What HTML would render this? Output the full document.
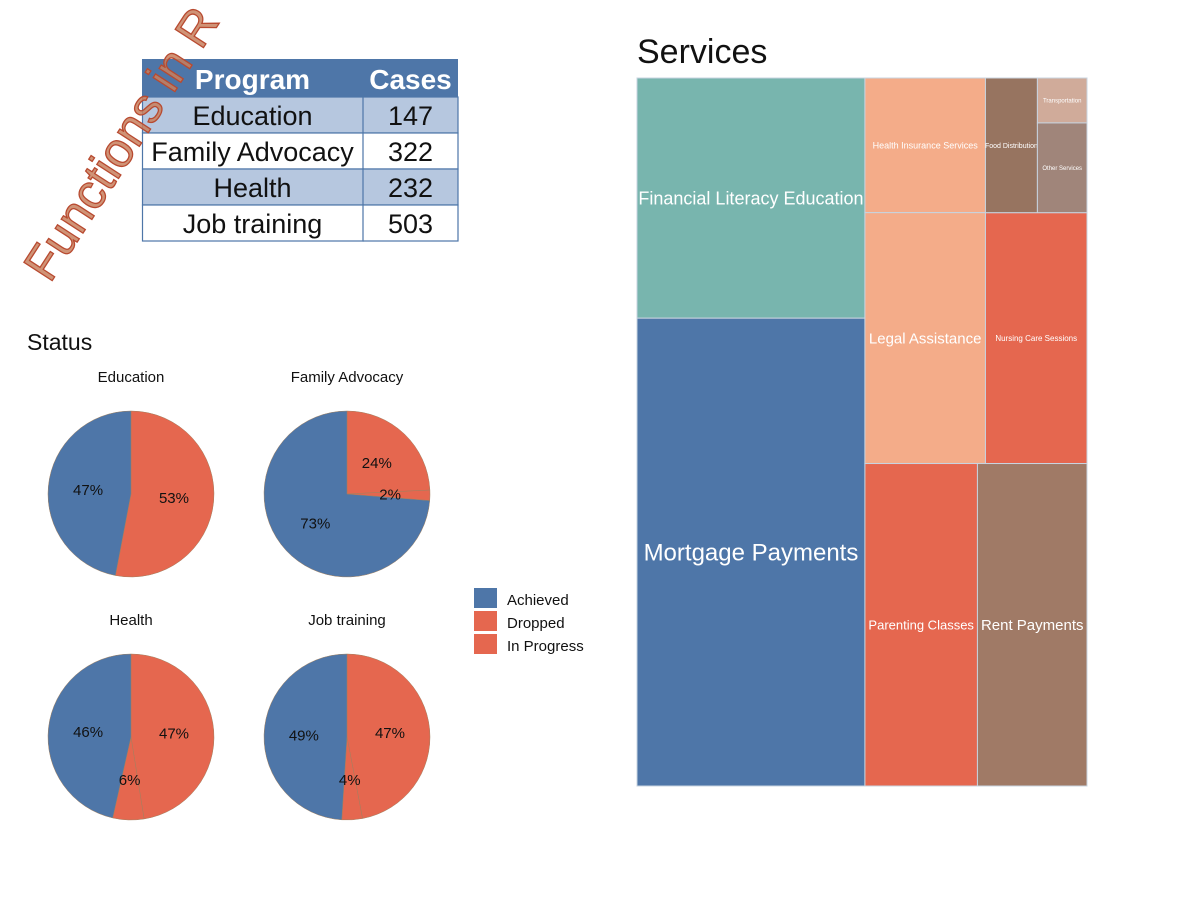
<!DOCTYPE html>
<html><head><meta charset="utf-8"><style>
body{margin:0;background:#fff;width:1200px;height:900px;overflow:hidden;font-family:"Liberation Sans",Arial,sans-serif}
svg text{font-family:"Liberation Sans",Arial,sans-serif}
</style></head><body>
<svg id="chart" width="1200" height="900" viewBox="0 0 1200 900">
<g id="table"></g>
<text x="0" y="0" transform="translate(50,284) rotate(-57)" font-size="49" fill="#c8805e" fill-opacity="0.85" stroke="#b84a30" stroke-width="1.3">Functions in R</text>
<text x="27" y="350" font-size="23" fill="#111">Status</text>
<g id="pies"></g>
<g id="legend"></g>
<text x="637" y="63" font-size="34" fill="#111">Services</text>
<g id="tree"></g>
</svg>
<script>
const NS="http://www.w3.org/2000/svg";
function mk(tag,attrs,parent){const e=document.createElementNS(NS,tag);for(const k in attrs)e.setAttribute(k,attrs[k]);parent.appendChild(e);return e;}

// ---- table data
const programs=["Education","Family Advocacy","Health","Job training"];
const cases=[147,322,232,503];
// ---- pie data
const statusCats=["Achieved","Dropped","In Progress"];
const pieAchieved=[47,73,46,49];
const pieDropped=[53,24,47,47];
const pieInProgress=[0,2,6,4];
const statusColors=["#4e76a8","#e5674f","#e5674f"];
// ---- treemap data
const services=["Financial Literacy Education","Mortgage Payments","Health Insurance Services","Legal Assistance","Food Distribution","Transportation","Other Services","Nursing Care Sessions","Parenting Classes","Rent Payments"];
const serviceValues=[172,335,51,95,22,7,14,80,114,111];

// table
const tg=document.getElementById('table');
const tx0=142,tx1=363,tx2=458,ty0=59,hh=38,rh=36;
let r=mk('rect',{x:tx0,y:ty0,width:tx2-tx0,height:hh,fill:'#4e76a8'},tg);

let t=mk('text',{x:(tx0+tx1)/2,y:ty0+30,'font-size':28,'font-weight':'bold',fill:'#fff','text-anchor':'middle'},tg);t.textContent='Program';

t=mk('text',{x:(tx1+tx2)/2,y:ty0+30,'font-size':28,'font-weight':'bold',fill:'#fff','text-anchor':'middle'},tg);t.textContent='Cases';

programs.forEach((p,i)=>{
  const y=ty0+hh+i*rh;const fill=i%2==0?'#b6c7df':'#fff';
  let a=mk('rect',{x:tx0+0.5,y:y,width:tx1-tx0,height:rh,fill:fill,stroke:'#4e76a8','stroke-width':1.2},tg);
  
  let b=mk('rect',{x:tx1,y:y,width:tx2-tx1,height:rh,fill:fill,stroke:'#4e76a8','stroke-width':1.2},tg);
  
  let c=mk('text',{x:(tx0+tx1)/2,y:y+28,'font-size':27,fill:'#111','text-anchor':'middle'},tg);c.textContent=p;
  
  let d=mk('text',{x:(tx1+tx2)/2,y:y+28,'font-size':27,fill:'#111','text-anchor':'middle'},tg);d.textContent=cases[i];
  
});

// pies
const pg=document.getElementById('pies');
const centers=[[131,494],[347,494],[131,737],[347,737]];
const R=83;
function pt(cx,cy,rad,frac){const a=frac*2*Math.PI;return [cx+rad*Math.sin(a),cy-rad*Math.cos(a)];}
const labelsToDraw=[];
programs.forEach((p,i)=>{
  const [cx,cy]=centers[i];
  let tt=mk('text',{x:cx,y:cy-112,'font-size':15,fill:'#111','text-anchor':'middle'},pg);tt.textContent=p;
  
  const vals=[pieDropped[i],pieInProgress[i],pieAchieved[i]];const cols=[statusColors[1],statusColors[2],statusColors[0]];
  const tot=vals.reduce((a,b)=>a+b,0);let acc=0;
  vals.forEach((v,k)=>{
    if(v<=0)return;
    const f0=acc/tot,f1=(acc+v)/tot;acc+=v;
    const [x0,y0]=pt(cx,cy,R,f0),[x1,y1]=pt(cx,cy,R,f1);
    const large=(f1-f0)>0.5?1:0;
    let s=mk('path',{d:`M${cx},${cy}L${x0},${y0}A${R},${R} 0 ${large} 1 ${x1},${y1}Z`,fill:cols[k],stroke:'#a08060','stroke-width':0.5},pg);
    
    const [lx,ly]=pt(cx,cy,R*0.52,(f0+f1)/2);
    labelsToDraw.push([lx,ly,v]);
  });
});
labelsToDraw.forEach(([lx,ly,v])=>{
  let l=mk('text',{x:lx,y:ly+5,'font-size':15,fill:'#111','text-anchor':'middle'},pg);l.textContent=v+'%';
  
});

// legend
const lg=document.getElementById('legend');
statusCats.forEach((c,i)=>{
  let s=mk('rect',{x:474,y:588+i*23,width:23,height:20,fill:statusColors[i]},lg);
  
  let l=mk('text',{x:507,y:605+i*23,'font-size':15,fill:'#111'},lg);l.textContent=c;
  
});

// treemap
const tileColors=["#78b5ae","#4e76a8","#f4ac89","#f4ac89","#977460","#d0ab9a","#a0857a","#e5674f","#e5674f","#a07a66"];
const fontSizes=[18,24,9,15,7,6,6,8,13,15];
const layoutTree={d:'h',k:[{d:'v',k:[0,1]},{d:'v',k:[{d:'h',k:[{d:'v',k:[2,3]},{d:'v',k:[{d:'h',k:[4,{d:'v',k:[5,6]}]},7]}]},{d:'h',k:[8,9]}]}]};
function sum(n){return typeof n==='number'?serviceValues[n]:n.k.reduce((a,c)=>a+sum(c),0);}
const trg=document.getElementById('tree');
function place(n,x,y,w,h){
  if(typeof n==='number'){
    let rc=mk('rect',{x:x,y:y,width:w,height:h,fill:tileColors[n],stroke:'#c8d4e0','stroke-width':1},trg);
    
    let lt=mk('text',{x:x+w/2,y:y+h/2+fontSizes[n]*0.35,'font-size':fontSizes[n],fill:'#fff','text-anchor':'middle'},trg);lt.textContent=services[n];
    
    return;
  }
  const tot=sum(n);let off=0;
  n.k.forEach(c=>{const f=sum(c)/tot;
    if(n.d==='h'){place(c,x+off,y,w*f,h);off+=w*f;}else{place(c,x,y+off,w,h*f);off+=h*f;}});
}
place(layoutTree,637,78,450,708);
</script>
</body></html>
